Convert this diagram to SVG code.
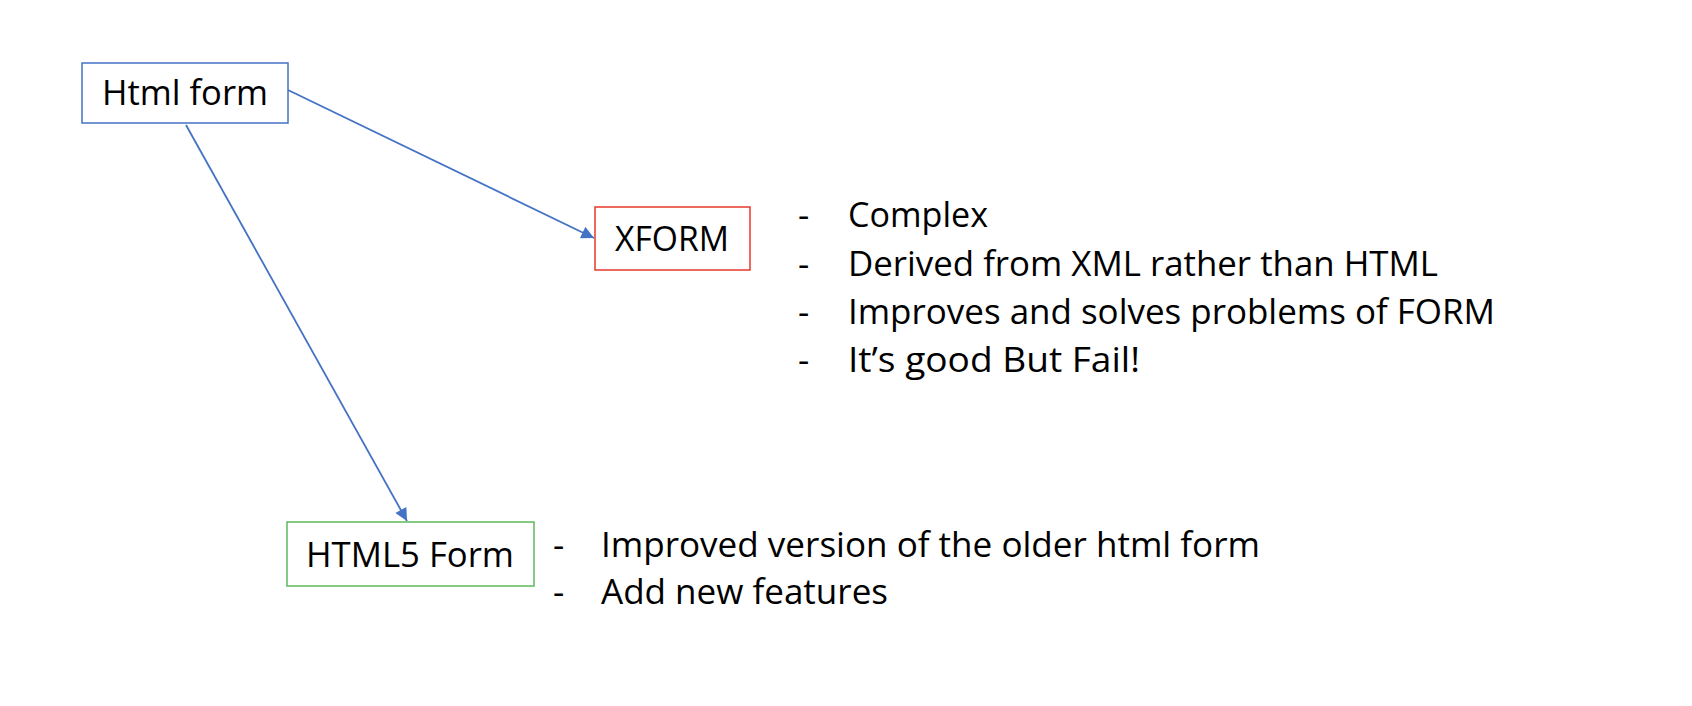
<svg xmlns="http://www.w3.org/2000/svg" width="1692" height="706" viewBox="0 0 1692 706">
<style>
.t{font-family:"Open Sans","Liberation Sans",sans-serif;font-size:35px;fill:#000}
.box{fill:#fff;stroke-width:1.5}
.c{stroke:#4472c4;stroke-width:1.8;fill:none}
</style>
<defs>
<marker id="ah" viewBox="0 0 10 10" refX="10" refY="5" markerWidth="8" markerHeight="7" orient="auto" markerUnits="strokeWidth"><path d="M0,0 L10,5 L0,10 z" fill="#4472c4"/></marker>
</defs>
<rect width="1692" height="706" fill="#fff"/>
<g id="connectors">
<line class="c" x1="288" y1="90" x2="594" y2="238" marker-end="url(#ah)"/>
<line class="c" x1="186" y1="125" x2="407" y2="521" marker-end="url(#ah)"/>
</g>
<g id="html-form">
<rect class="box" x="82" y="63" width="206" height="60" stroke="#4472c4"/>
<text class="t" x="185" y="105" text-anchor="middle" textLength="166" lengthAdjust="spacingAndGlyphs">Html form</text>
</g>
<g id="xform">
<rect class="box" x="595" y="207" width="155" height="63" stroke="#e8392b"/>
<text class="t" x="672" y="251" text-anchor="middle" textLength="114" lengthAdjust="spacingAndGlyphs">XFORM</text>
</g>
<g id="html5-form">
<rect class="box" x="287" y="522" width="247" height="64" stroke="#5cb85c"/>
<text class="t" x="410" y="567" text-anchor="middle" textLength="208" lengthAdjust="spacingAndGlyphs">HTML5 Form</text>
</g>
<g id="xform-notes">
<text class="t" x="798" y="227">-</text><text class="t" x="848" y="227" textLength="140" lengthAdjust="spacingAndGlyphs">Complex</text>
<text class="t" x="798" y="276">-</text><text class="t" x="848" y="276" textLength="590" lengthAdjust="spacingAndGlyphs">Derived from XML rather than HTML</text>
<text class="t" x="798" y="324">-</text><text class="t" x="848" y="324" textLength="647" lengthAdjust="spacingAndGlyphs">Improves and solves problems of FORM</text>
<text class="t" x="798" y="372">-</text><text class="t" x="848" y="372" textLength="292" lengthAdjust="spacingAndGlyphs">It’s good But Fail!</text>
</g>
<g id="html5-notes">
<text class="t" x="553" y="557">-</text><text class="t" x="601" y="557" textLength="659" lengthAdjust="spacingAndGlyphs">Improved version of the older html form</text>
<text class="t" x="553" y="604">-</text><text class="t" x="601" y="604" textLength="287" lengthAdjust="spacingAndGlyphs">Add new features</text>
</g>
</svg>
